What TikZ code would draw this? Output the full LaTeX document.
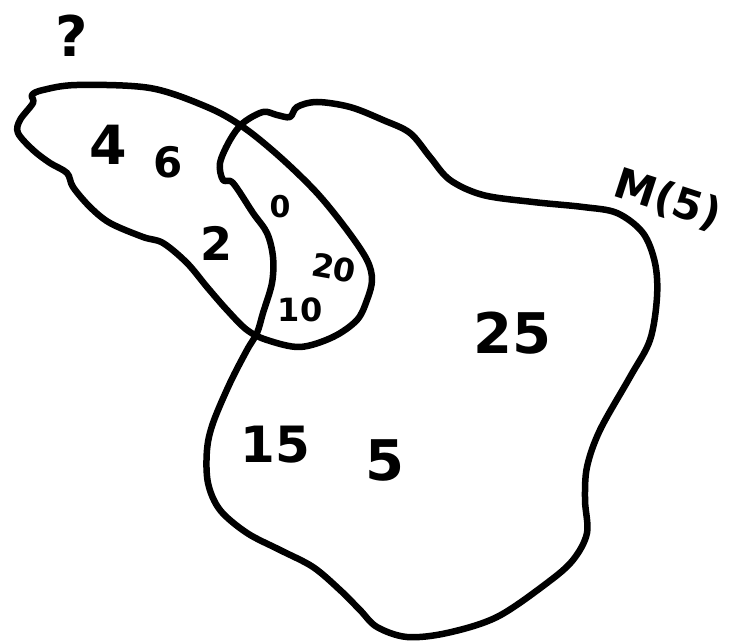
\documentclass[tikz,border=0pt]{standalone}
\usepackage{fontspec}
\setmainfont{DejaVu Sans}
\begin{document}
\begin{tikzpicture}[x=1pt,y=-1pt,
  setline/.style={line width=6.5pt,line join=round,line cap=round},
  lbl/.style={inner sep=0pt,font=\fontsize{#1}{#1}\selectfont\bfseries}]
\useasboundingbox (0,0) rectangle (731,644);
% set "?"
\draw[setline] plot[smooth cycle,tension=0.55] coordinates{
 (32,95) (43,90) (77,85) (150,88) (207,107) (243,127) (280,157) (317,193)
 (347,230) (367,260) (372,280) (367,300) (357,320) (333,337) (300,347)
 (267,340) (247,330) (227,310) (207,287) (187,263) (163,243) (143,237)
 (110,223) (90,207) (73,187) (67,173) (50,163) (33,150) (18,133) (20,120) (33,103)};
% set M(5)
\draw[setline] plot[smooth cycle,tension=0.55] coordinates{
 (317,102) (350,107) (383,120) (410,133) (430,157) (450,180) (483,195)
 (533,202) (583,207) (617,213) (643,233) (655,263) (657,297) (650,340)
 (630,377) (600,430) (587,467) (585,500) (587,533) (573,560) (547,583)
 (497,617) (447,633) (407,637) (377,627) (360,610) (340,590) (313,567)
 (280,550) (247,533) (220,510) (208,483) (207,450) (213,423) (230,383)
 (247,350) (257,333) (263,313) (272,283) (273,257) (267,233) (253,213)
 (233,183) (223,180) (220,163) (230,140) (243,123) (263,112) (277,115)
 (290,117) (297,107)};
\node[lbl=56] (q) at (72,36) {?};
\node[lbl=54] (n4) at (108,145) {4};
\node[lbl=42] (n6) at (168,162) {6};
\node[lbl=46] (n2) at (217,243) {2};
\node[lbl=30] (n0) at (280,207) {0};
\node[lbl=32,rotate=-10] (n20) at (334,268) {20};
\node[lbl=32] (n10) at (300,310) {10};
\node[lbl=56] (n25) at (512,333) {25};
\node[lbl=50] (n15) at (275,445) {15};
\node[lbl=56] (n5) at (385,460) {5};
\node[lbl=42,rotate=-18] (m5) at (668,200) {M(5)};
\end{tikzpicture}
\end{document}
